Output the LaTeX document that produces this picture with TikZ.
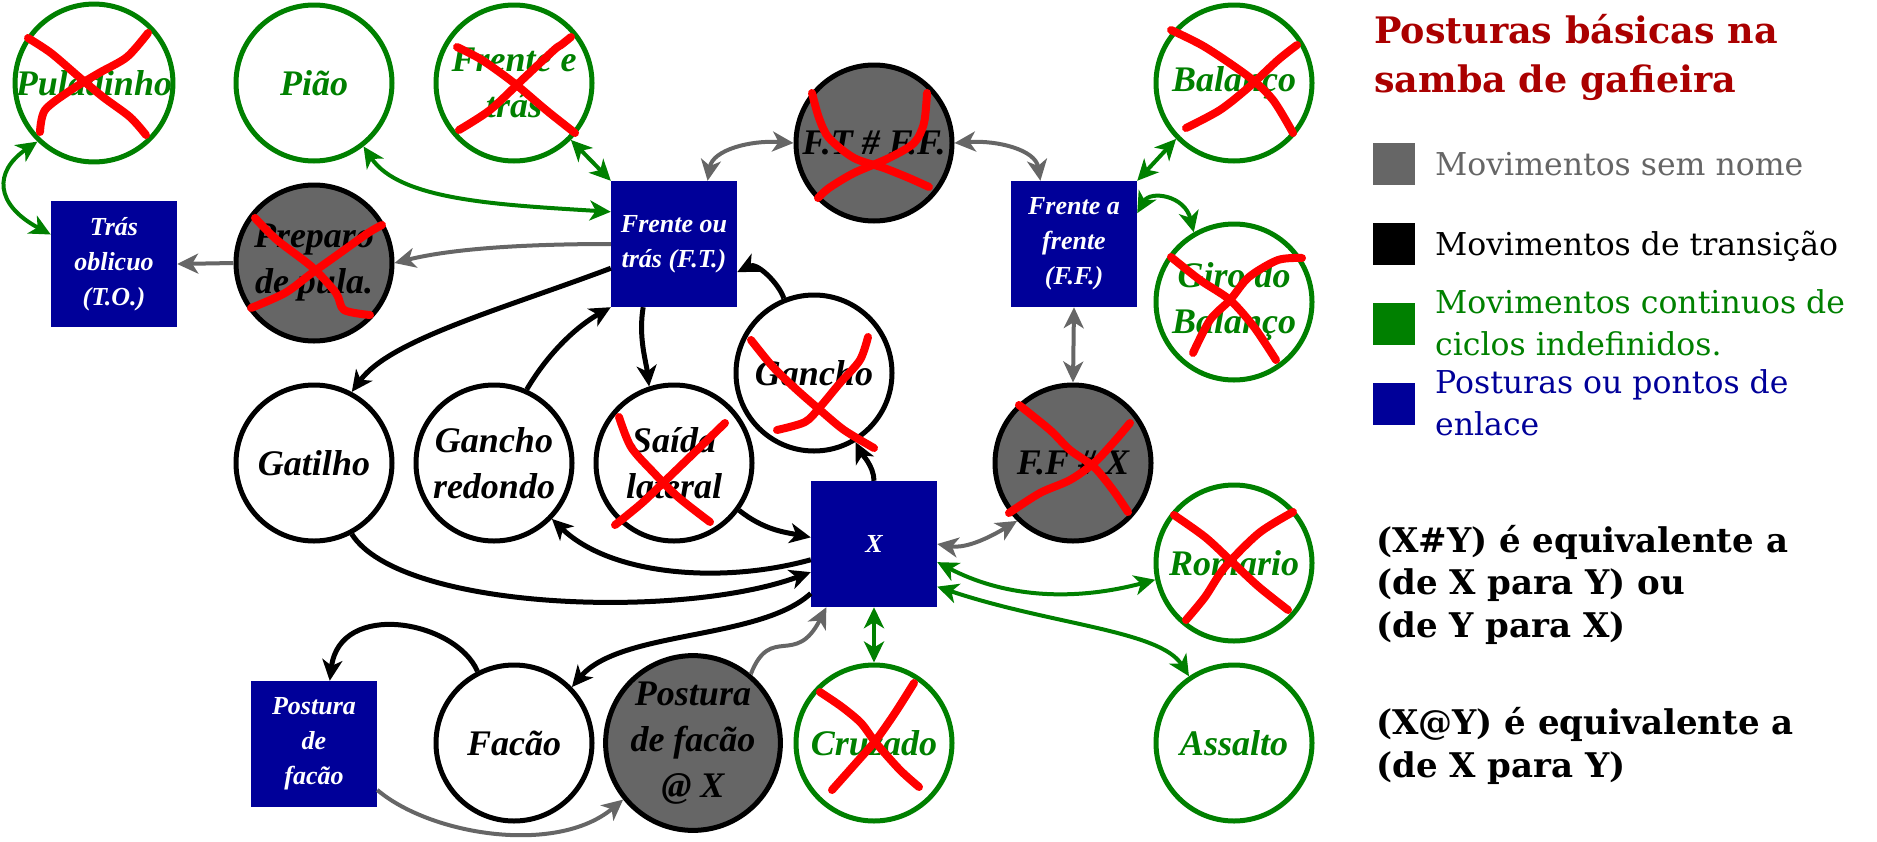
\documentclass[tikz,border=0pt]{standalone}
\usepackage{fontspec}
\setmainfont{DejaVu Serif}
\newfontfamily\nodefont{Liberation Serif}
\usetikzlibrary{arrows.meta}
\definecolor{cgreen}{HTML}{008000}
\definecolor{cgray}{HTML}{666666}
\definecolor{cblue}{HTML}{000099}
\definecolor{ctitle}{HTML}{AA0000}
\definecolor{xred}{HTML}{FF0000}
\begin{document}
\begin{tikzpicture}[x=1pt,y=-1pt,
  >={Stealth[length=21pt,width=20pt,inset=6pt]},
  mv/.style={circle, minimum size=156pt, inner sep=0pt, line width=5pt, align=center,
    font=\nodefont\bfseries\itshape\fontsize{36}{46}\selectfont},
  gmv/.style={mv, draw=cgreen, fill=white, text=cgreen},
  umv/.style={mv, draw=black, fill=cgray, text=black},
  tmv/.style={mv, draw=black, fill=white, text=black},
  post/.style={rectangle, fill=cblue, text=white, minimum width=126pt, minimum height=126pt,
    inner sep=0pt, align=center, font=\nodefont\bfseries\itshape\fontsize{26}{35}\selectfont},
  garr/.style={draw=cgreen, line width=4pt, <->},
  grarr/.style={draw=cgray, line width=4pt},
  barr/.style={draw=black, line width=5pt, ->},
  redx/.style={xred, line width=8pt, line cap=round, line join=round},
  lgsq/.style={rectangle, minimum size=42pt, inner sep=0pt},
  lgtx/.style={anchor=base west, align=left, inner sep=0pt, font=\fontsize{31.5}{42}\selectfont},
  note/.style={anchor=base west, align=left, inner sep=0pt, font=\bfseries\fontsize{34}{42.5}\selectfont}
]
\useasboundingbox (0,0) rectangle (1877,841);

% nodes
\node[gmv] (pul) at (94,83) {Puladinho};
\node[gmv] (pia) at (314,83) {Pião};
\node[gmv] (fet) at (514,83) {Frente e\\trás};
\node[gmv] (bal) at (1234,83) {Balanço};
\node[gmv] (giro) at (1234,302) {Giro do\\Balanço};
\node[gmv] (rom) at (1234,563) {Romario};
\node[gmv] (ass) at (1234,743) {Assalto};
\node[gmv] (cru) at (874,743) {Cruzado};
\node[umv] (pre) at (314,263) {Preparo\\de pula.};
\node[umv] (ftff) at (874,143) {F.T \# F.F.};
\node[umv] (ffx) at (1073,463) {F.F \# X};
\node[umv] (pfx) at (693,743) {Postura\\de facão\\@ X};
\node[tmv] (gat) at (314,463) {Gatilho};
\node[tmv] (gre) at (494,463) {Gancho\\redondo};
\node[tmv] (sai) at (674,463) {Saída\\lateral};
\node[tmv] (gan) at (814,373) {Gancho};
\node[tmv] (fac) at (514,743) {Facão};
\node[post] (tob) at (114,264) {Trás\\oblicuo\\(T.O.)};
\node[post] (ft) at (674,244) {Frente ou\\trás (F.T.)};
\node[post] (ff) at (1074,244) {Frente a\\frente\\(F.F.)};
\node[post] (xx) at (874,544) {X};
\node[post] (pfb) at (314,744) {Postura\\de\\facão};

% green connectors
\draw[garr] (pul.226) .. controls +(-44,30) and +(-56,-30) .. (tob.155);
\draw[garr] (pia.-52) .. controls +(36,54) and +(-112,-7) .. (ft.153);
\draw[garr] (fet.-45) -- (ft.north west);
\draw[garr] (ff.north east) -- (bal.224);
\draw[garr] (ff.26) .. controls +(13,-23) and +(-9,-37) .. (giro.120);
\draw[garr] (xx.south) -- (cru.north);
\draw[garr] (xx.-16) .. controls +(73,38) and +(-75,20) .. (rom.192);
\draw[garr] (xx.-34) .. controls +(113,38) and +(-29,-46) .. (ass.124);

% gray connectors
\draw[grarr,<->] (ft.62) .. controls +(5,-31) and +(-43,-3) .. (ftff.west);
\draw[grarr,<->] (ftff.east) .. controls +(43,-3) and +(-5,-31) .. (ff.118);
\draw[grarr,<->] (ff.south) -- (ffx.north);
\draw[grarr,<->] (xx.east) .. controls +(30,5) and +(-25,15) .. (ffx.226);
\draw[grarr,->] (ft.west) .. controls +(-80,0) and +(60,-15) .. (pre.east);
\draw[grarr,->] (pre.west) -- (tob.east);
\draw[grarr,->] (pfx.50) .. controls +(20,-51) and +(-31,61) .. (xx.233);
\draw[grarr,->] (pfb.-36) .. controls +(53,45) and +(-67,56) .. (pfx.219);

% black connectors
\draw[barr] (ft.201) .. controls +(-112,42) and +(38,-52) .. (gat.62);
\draw[barr] (gre.66) .. controls +(23,-39) and +(-32,18) .. (ft.south west);
\draw[barr] (ft.244) .. controls +(-5,30) and +(-3,-25) .. (sai.108);
\draw[barr] (gan.112) .. controls +(-5,-15) and +(20,-10) .. (ft.-24);
\draw[barr] (xx.north) .. controls +(0,-15) and +(5,10) .. (gan.-59);
\draw[barr] (sai.-36) .. controls +(25,20) and +(-25,-5) .. (xx.174);
\draw[barr] (xx.194) .. controls +(-91,25) and +(58,56) .. (gre.-44);
\draw[barr] (gat.-62) .. controls +(48,76) and +(-131,48) .. (xx.204);
\draw[barr] (xx.218) .. controls +(-51,47) and +(48,-57) .. (fac.44);
\draw[barr] (fac.117) .. controls +(-22,-51) and +(10,-81) .. (pfb.76);

% red crosses
\begin{scope}[shift={(pul.center)}]
\draw[redx] plot[smooth,tension=0.5] coordinates {(-66,-45) (-43,-30) (-15,-6) (9,14) (36,34) (52,52)};
\draw[redx] plot[smooth,tension=0.5] coordinates {(-54,49) (-49,27) (-23,7) (5,-10) (33,-26) (54,-50)};
\end{scope}
\begin{scope}[shift={(fet.center)}]
\draw[redx] plot[smooth,tension=0.5] coordinates {(-57,-36) (-32,-23) (0,0) (32,27) (61,50)};
\draw[redx] plot[smooth,tension=0.5] coordinates {(-55,47) (-24,27) (8,-3) (40,-33) (47,-38) (57,-46)};
\end{scope}
\begin{scope}[shift={(pre.center)}]
\draw[redx] plot[smooth,tension=0.5] coordinates {(-59,-45) (-37,-23) (-2,4) (22,30) (30,47) (56,52)};
\draw[redx] plot[smooth,tension=0.5] coordinates {(-63,45) (-29,30) (-2,10) (26,-10) (54,-30) (68,-38)};
\end{scope}
\begin{scope}[shift={(ftff.center)}]
\draw[redx] plot[smooth,tension=0.5] coordinates {(-62,-50) (-55,-25) (-45,-5) (-20,15) (10,25) (35,35) (55,44)};
\draw[redx] plot[smooth,tension=0.5] coordinates {(53,-50) (50,-20) (40,0) (15,15) (-20,30) (-45,45) (-56,55)};
\end{scope}
\begin{scope}[shift={(bal.center)}]
\draw[redx] plot[smooth,tension=0.5] coordinates {(-63,-53) (-29,-36) (15,-6) (39,17) (59,50)};
\draw[redx] plot[smooth,tension=0.5] coordinates {(-48,45) (-14,27) (15,4) (44,-23) (63,-38)};
\end{scope}
\begin{scope}[shift={(giro.center)}]
\draw[redx] plot[smooth,tension=0.5] coordinates {(-63,-45) (-34,-22) (-4,-2) (20,25) (42,58)};
\draw[redx] plot[smooth,tension=0.5] coordinates {(-41,51) (-24,18) (-4,-2) (15,-25) (44,-42) (68,-44)};
\end{scope}
\begin{scope}[shift={(gan.center)}]
\draw[redx] plot[smooth,tension=0.5] coordinates {(-63,-33) (-41,-6) (-17,17) (6,37) (30,57) (60,75)};
\draw[redx] plot[smooth,tension=0.5] coordinates {(-37,57) (-9,49) (6,34) (26,10) (46,-13) (54,-36)};
\end{scope}
\begin{scope}[shift={(sai.center)}]
\draw[redx] plot[smooth,tension=0.5] coordinates {(-55,-46) (-43,-16) (-20,10) (4,34) (36,59)};
\draw[redx] plot[smooth,tension=0.5] coordinates {(-59,62) (-32,40) (-8,17) (20,-10) (51,-40)};
\end{scope}
\begin{scope}[shift={(ffx.center)}]
\draw[redx] plot[smooth,tension=0.5] coordinates {(-54,-58) (-23,-33) (-3,-13) (21,4) (40,27) (55,49)};
\draw[redx] plot[smooth,tension=0.5] coordinates {(-64,50) (-33,30) (-3,17) (21,0) (40,-20) (57,-40)};
\end{scope}
\begin{scope}[shift={(rom.center)}]
\draw[redx] plot[smooth,tension=0.5] coordinates {(-60,-48) (-29,-26) (-4,-3) (25,24) (54,47)};
\draw[redx] plot[smooth,tension=0.5] coordinates {(-48,57) (-29,34) (-9,4) (25,-30) (59,-51)};
\end{scope}
\begin{scope}[shift={(cru.center)}]
\draw[redx] plot[smooth,tension=0.5] coordinates {(-54,-51) (-32,-36) (-13,-20) (2,0) (26,27) (45,44)};
\draw[redx] plot[smooth,tension=0.5] coordinates {(-42,47) (-18,20) (2,-3) (21,-30) (40,-60)};
\end{scope}

% legend (base anchor = baseline of the last line)
\node[anchor=base west, align=left, inner sep=0pt, text=ctitle, font=\bfseries\fontsize{36.5}{49}\selectfont] (title) at (1374,92) {Posturas básicas na\\samba de gafieira};
\node[lgsq, fill=cgray] (sq1) at (1394,163.5) {};
\node[lgsq, fill=black] (sq2) at (1394,243.5) {};
\node[lgsq, fill=cgreen] (sq3) at (1394,323.5) {};
\node[lgsq, fill=cblue] (sq4) at (1394,403.5) {};
\node[lgtx, text=cgray] (lt1) at (1435,175) {Movimentos sem nome};
\node[lgtx, text=black] (lt2) at (1435,255) {Movimentos de transição};
\node[lgtx, text=cgreen] (lt3) at (1435,355) {Movimentos continuos de\\ciclos indefinidos.};
\node[lgtx, text=cblue] (lt4) at (1435,435) {Posturas ou pontos de\\enlace};
\node[note] (n1) at (1376,637) {(X\#Y) é equivalente a\\(de X para Y) ou\\(de Y para X)};
\node[note] (n2) at (1376,777) {(X@Y) é equivalente a\\(de X para Y)};
\end{tikzpicture}
\end{document}
